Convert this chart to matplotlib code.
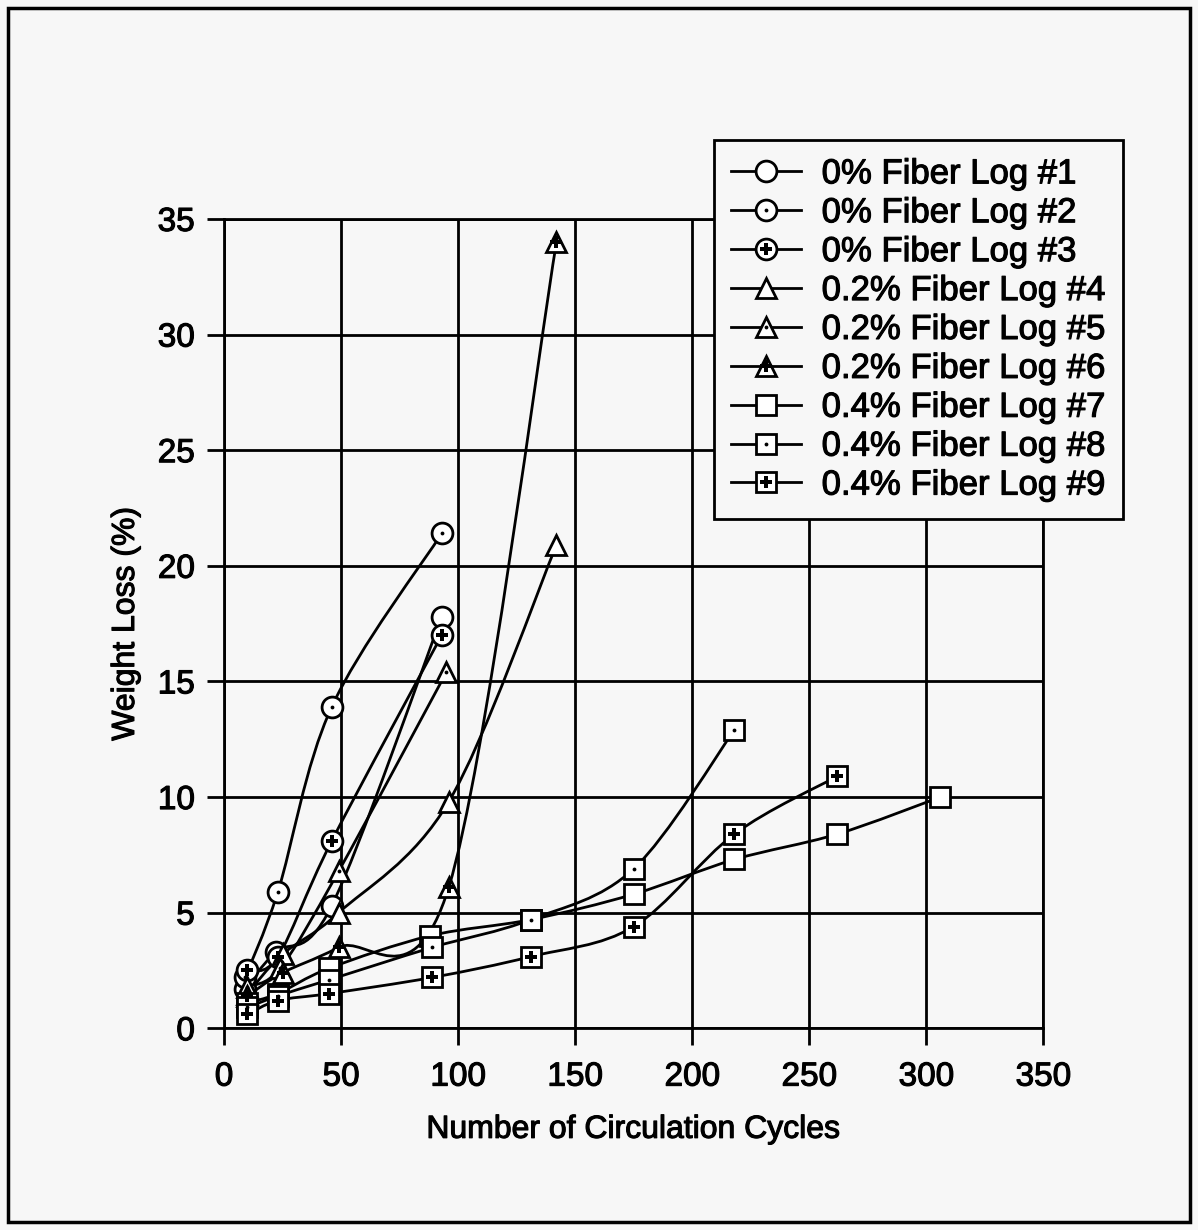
import matplotlib
matplotlib.use('Agg')
import matplotlib.pyplot as plt
import matplotlib.patheffects as pe
from matplotlib.path import Path
from matplotlib.patches import PathPatch, Rectangle
from matplotlib.lines import Line2D

plt.rcParams['font.family'] = ['Liberation Sans', 'DejaVu Sans']

# data
x_0pct_1 = [9, 22, 46, 93]
y_0pct_1 = [1.7, 3.3, 5.3, 17.8]
x_0pct_2 = [9, 23, 46, 93]
y_0pct_2 = [2.2, 5.9, 13.9, 21.4]
x_0pct_3 = [10, 23, 46, 93]
y_0pct_3 = [2.5, 3.1, 8.1, 17.0]

x_02pct_4 = [10, 25, 49, 96, 142]
y_02pct_4 = [1.5, 3.2, 5.0, 9.8, 20.9]
x_02pct_5 = [10, 24, 49, 95]
y_02pct_5 = [1.8, 2.6, 6.8, 15.4]
x_02pct_6 = [10, 25, 49, 96, 142]
y_02pct_6 = [1.4, 2.4, 3.5, 6.1, 34.0]

x_04pct_7 = [10, 23, 45, 88, 131, 175, 218, 262, 306]
y_04pct_7 = [1.1, 1.5, 2.6, 4.0, 4.7, 5.8, 7.3, 8.4, 10.0]
x_04pct_8 = [10, 23, 45, 89, 131, 175, 218]
y_04pct_8 = [0.9, 1.4, 2.1, 3.5, 4.7, 6.9, 12.9]
x_04pct_9 = [10, 23, 45, 89, 131, 175, 218, 262]
y_04pct_9 = [0.6, 1.2, 1.5, 2.2, 3.1, 4.4, 8.4, 10.9]

labels = ['0% Fiber Log #1', '0% Fiber Log #2', '0% Fiber Log #3',
          '0.2% Fiber Log #4', '0.2% Fiber Log #5', '0.2% Fiber Log #6',
          '0.4% Fiber Log #7', '0.4% Fiber Log #8', '0.4% Fiber Log #9']
xs = [x_0pct_1, x_0pct_2, x_0pct_3, x_02pct_4, x_02pct_5, x_02pct_6,
      x_04pct_7, x_04pct_8, x_04pct_9]
ys = [y_0pct_1, y_0pct_2, y_0pct_3, y_02pct_4, y_02pct_5, y_02pct_6,
      y_04pct_7, y_04pct_8, y_04pct_9]
outer = ['o', 'o', 'o', '^', '^', '^', 's', 's', 's']
inner = [None, '.', 'P', None, '.', 'P', None, '.', 'P']
sizes = [15, 15, 15, 15, 15, 15, 14, 14, 14]


def smooth_path(x, y):
  # excel style smoothed line, bezier segments through the points
  pts = list(zip(x, y))
  n = len(pts)
  verts = [pts[0]]
  codes = [Path.MOVETO]
  for i in range(n - 1):
    p0 = pts[i - 1] if i > 0 else pts[i]
    p1 = pts[i]
    p2 = pts[i + 1]
    p3 = pts[i + 2] if i + 2 < n else pts[i + 1]
    c1 = (p1[0] + (p2[0] - p0[0]) / 6, p1[1] + (p2[1] - p0[1]) / 6)
    c2 = (p2[0] - (p3[0] - p1[0]) / 6, p2[1] - (p3[1] - p1[1]) / 6)
    verts += [c1, c2, p2]
    codes += [Path.CURVE4] * 3
  return Path(verts, codes)


fig = plt.figure(figsize=(11.98, 12.30), dpi=100, facecolor='#f7f7f7')
ax = fig.add_axes([0.187, 0.164, 0.684, 0.658])
ax.set_facecolor('#f7f7f7')

lw = 2.0
handles = []
for i in range(9):
  ax.add_patch(PathPatch(smooth_path(xs[i], ys[i]), fill=False, ec='black',
                         lw=lw, zorder=3))
  ax.plot(xs[i], ys[i], ls='none', marker=outer[i], ms=sizes[i],
          mfc='white', mec='black', mew=2, zorder=4)
  h_out = Line2D([], [], color='black', lw=lw, marker=outer[i], ms=sizes[i],
                 mfc='white', mec='black', mew=2)
  if inner[i] is not None:
    ims = 5.5 if inner[i] == '.' else 8
    ax.plot(xs[i], ys[i], ls='none', marker=inner[i], ms=ims, color='black',
            mew=0, zorder=5)
    h_in = Line2D([], [], ls='none', marker=inner[i], ms=ims, color='black',
                  mew=0)
    handles.append((h_out, h_in))
  else:
    handles.append(h_out)

ax.set_xlim(0, 350)
ax.set_ylim(0, 35)
ax.set_xticks(range(0, 351, 50))
ax.set_yticks(range(0, 36, 5))
ax.grid(True, color='black', lw=2)
for s in ax.spines.values():
  s.set_linewidth(2)
ax.tick_params(direction='out', length=12, width=2, labelsize=24)
ax.tick_params(axis='x', pad=12)
ax.tick_params(axis='y', pad=9)
ax.set_xlabel('Number of Circulation Cycles', fontsize=23, labelpad=16)
ax.set_ylabel('Weight Loss (%)', fontsize=23, labelpad=12)

leg = fig.legend(handles, labels, loc='upper left',
                 bbox_to_anchor=(714 / 1198, 1 - 140 / 1230),
                 fontsize=25, frameon=True, fancybox=False, edgecolor='black',
                 facecolor='#f7f7f7', framealpha=1, handlelength=2.0,
                 handletextpad=0.6, labelspacing=0.17, borderpad=0.5,
                 borderaxespad=0)
leg.get_frame().set_linewidth(2)

# scanned print looks a bit heavy, thicken the text slightly
bold = [pe.withStroke(linewidth=0.8, foreground='black')]
texts = (ax.get_xticklabels() + ax.get_yticklabels() + leg.get_texts()
         + [ax.xaxis.label, ax.yaxis.label])
for t in texts:
  t.set_path_effects(bold)

# outer frame of the page
fig.patches.append(Rectangle((8 / 1198, 8 / 1230), 1 - 16 / 1198, 1 - 16 / 1230,
                             transform=fig.transFigure, fill=False,
                             ec='black', lw=2.5))

fig.savefig('out.png', dpi=100, facecolor=fig.get_facecolor())
